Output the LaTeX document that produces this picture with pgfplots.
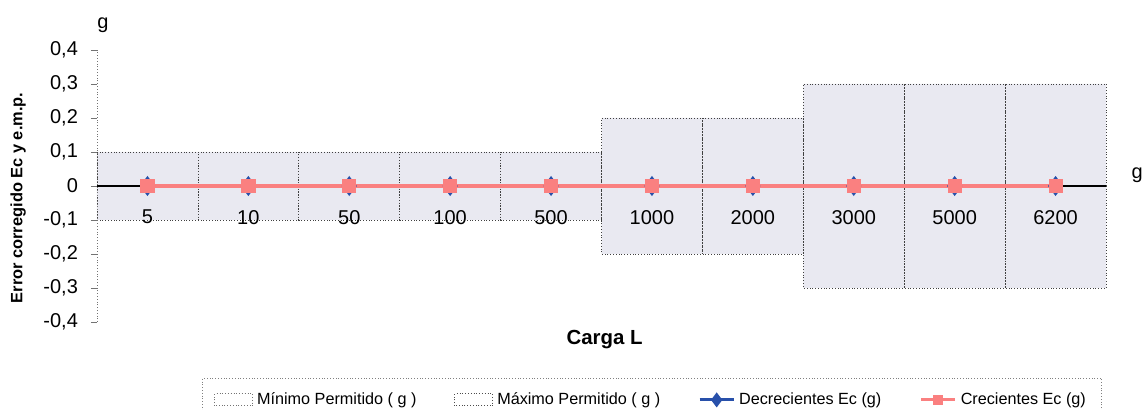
\documentclass[border=0pt]{standalone}
\usepackage{fontspec}
\setmainfont{Liberation Sans}
\usepackage{pgfplots}
\pgfplotsset{compat=1.18}
\definecolor{barfill}{RGB}{233,233,241}
\definecolor{pinkline}{RGB}{250,128,128}
\definecolor{blueline}{RGB}{40,80,170}
\begin{document}
\begin{tikzpicture}
\useasboundingbox (0,0) rectangle (572pt,205pt);
\begin{axis}[
  axis on top,
  at={(48.5pt,44pt)}, anchor=south west,
  scale only axis, width=504.5pt, height=136pt,
  xmin=-0.5, xmax=9.5, ymin=-0.4, ymax=0.4,
  axis x line*=middle, axis y line*=left,
  x axis line style={draw=none},
  y axis line style={black!55, densely dotted},
  xtick={0,...,9},
  xticklabels={5,10,50,100,500,1000,2000,3000,5000,6200},
  major x tick style={draw=none},
  extra x ticks={-0.5,9.5},
  extra x tick labels={},
  extra x tick style={major tick length=4pt, tick style={draw=black, line width=0.6pt}},
  xticklabel style={yshift=-8.5pt},
  ytick={-0.4,-0.3,-0.2,-0.1,0,0.1,0.2,0.3,0.4},
  /pgf/number format/.cd, fixed, precision=1, use comma, assume math mode=true,
  /pgfplots/.cd,
  y tick style={draw=black!55, line width=0.4pt},
  ytick align=outside, major tick length=3pt,
  yticklabel style={xshift=-3pt},
  tick label style={font=\fontsize{10}{12}\selectfont},
  xlabel={Carga L},
  xlabel style={at={(axis description cs:0.503,-0.066)}, anchor=center, font=\bfseries\fontsize{10.2}{12}\selectfont},
  ylabel={Error corregido Ec y e.m.p.},
  ylabel style={at={(axis description cs:-0.078,0.456)}, anchor=center, font=\bfseries\fontsize{8.2}{10}\selectfont},
  legend columns=4,
  legend style={at={(axis description cs:0.104,-0.206)}, anchor=north west,
    draw=black!50, densely dotted, font=\fontsize{8.1}{10}\selectfont,
    /tikz/every even column/.append style={column sep=17pt},
    inner xsep=6pt, inner ysep=5pt},
  clip=false,
]
\addplot[ybar, bar width=1, bar shift=0, fill=barfill, draw=black!75, densely dotted,
  legend image code/.code={\draw[black!55, densely dotted, fill=white] (0pt,-3pt) rectangle (19pt,3pt);}]
  coordinates {(0,-0.1) (1,-0.1) (2,-0.1) (3,-0.1) (4,-0.1) (5,-0.2) (6,-0.2) (7,-0.3) (8,-0.3) (9,-0.3)};
\addlegendentry{Mínimo Permitido ( g )}
\addplot[ybar, bar width=1, bar shift=0, fill=barfill, draw=black!75, densely dotted,
  legend image code/.code={\draw[black!70, densely dotted, fill=white] (0pt,-3pt) rectangle (19pt,3pt);}]
  coordinates {(0,0.1) (1,0.1) (2,0.1) (3,0.1) (4,0.1) (5,0.2) (6,0.2) (7,0.3) (8,0.3) (9,0.3)};
\addlegendentry{Máximo Permitido ( g )}
\draw[black, line width=0.8pt] (axis cs:-0.5,0) -- (axis cs:9.5,0);
\addplot[blueline, line width=1.6pt, mark=diamond*, mark size=3.7pt, mark options={fill=blueline},
  legend image post style={line width=1.4pt, mark size=2.6pt}]
  coordinates {(0,0) (1,0) (2,0) (3,0) (4,0) (5,0) (6,0) (7,0) (8,0) (9,0)};
\addlegendentry{Decrecientes Ec (g)}
\addplot[pinkline, line width=2.4pt, mark=square*, mark size=3.3pt, mark options={fill=pinkline, line width=0.4pt},
  legend image post style={line width=1.6pt, mark size=2.4pt}]
  coordinates {(0,0) (1,0) (2,0) (3,0) (4,0) (5,0) (6,0) (7,0) (8,0) (9,0)};
\addlegendentry{Crecientes Ec (g)}
\node[font=\fontsize{10}{12}\selectfont] at (rel axis cs:0.006,1.09) {g};
\node[font=\fontsize{10}{12}\selectfont] at (rel axis cs:1.031,0.54) {g};
\end{axis}
\end{tikzpicture}
\end{document}
